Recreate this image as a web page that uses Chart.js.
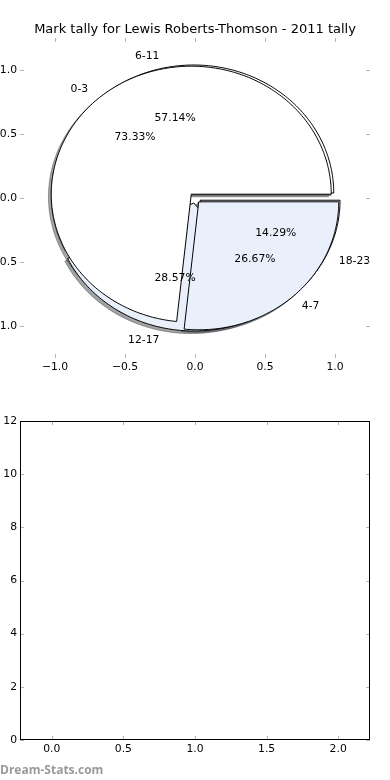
<!DOCTYPE html>
<html>
<head>
<meta charset="utf-8">
<script src="https://cdn.jsdelivr.net/npm/chart.js@4.4.0/dist/chart.umd.min.js"></script>
<style>
  html, body { margin: 0; padding: 0; background: #fff; }
  body { width: 390px; height: 780px; position: relative; overflow: hidden; }
  canvas { position: absolute; left: 0; }
  #pieChart { top: 0; }
  #barChart { top: 390px; }
  #mark { position: absolute; left: 0; top: 761px; font: bold 12px "Open Sans", sans-serif; color: #9a9a9a; }
</style>
</head>
<body>
<canvas id="pieChart" width="390" height="390"></canvas>
<canvas id="barChart" width="390" height="390"></canvas>
<div id="mark">Dream-Stats.com</div>
<script>
// first pie: 6-11 / 12-17 / 18-23
const rangesA = ["6-11", "12-17", "18-23"];
const tallyA = [4, 2, 1];
// second pie, drawn on top: 0-3 / 4-7
const rangesB = ["0-3", "4-7"];
const tallyB = [11, 4];

// tick labels
const pieTicks = [-1, -0.5, 0, 0.5, 1];
const lowerTicksX = [0, 0.5, 1, 1.5, 2];
const lowerTicksY = [0, 2, 4, 6, 8, 10, 12];
const lowerSeries = []; // nothing plotted in the lower panel

const TITLE = "Mark tally for Lewis Roberts-Thomson - 2011 tally";
const coloursA = ["#ffffff", "#eaf0fb", "#ffffff"];
const coloursB = ["#ffffff", "#eaf0fb"];
const EXPLODE = 0.04;
const SHADOW = 0.02;
const FONT = "DejaVu Sans";

function fmt(v) {
    return v.toFixed(1).replace("-", "\u2212");
}

function slices(values) {
    const total = values.reduce((a, b) => a + b, 0);
    let start = 0;
    return values.map((v) => {
        const frac = v / total;
        const end = start + frac;
        const mid = Math.PI * (start + end);
        const s = {
            t1: start * 2 * Math.PI,
            t2: end * 2 * Math.PI,
            mid: mid,
            cx: EXPLODE * Math.cos(mid),
            cy: EXPLODE * Math.sin(mid),
            pct: frac * 100,
        };
        start = end;
        return s;
    });
}

function shade(hex) {
    const n = parseInt(hex.slice(1), 16);
    const r = Math.round(((n >> 16) & 255) * 0.3);
    const g = Math.round(((n >> 8) & 255) * 0.3);
    const b = Math.round((n & 255) * 0.3);
    return `rgba(${r},${g},${b},0.5)`;
}

function wedgePath(ctx, xs, ys, s, dx, dy) {
    const cx = s.cx + dx, cy = s.cy + dy;
    ctx.beginPath();
    ctx.moveTo(xs.getPixelForValue(cx), ys.getPixelForValue(cy));
    const n = Math.max(2, Math.ceil((s.t2 - s.t1) / (Math.PI / 180)));
    for (let i = 0; i <= n; i++) {
        const t = s.t1 + ((s.t2 - s.t1) * i) / n;
        ctx.lineTo(xs.getPixelForValue(cx + Math.cos(t)), ys.getPixelForValue(cy + Math.sin(t)));
    }
    ctx.closePath();
}

const piePlugin = {
    id: "pieWedges",
    afterDatasetsDraw(chart) {
        const ctx = chart.ctx;
        const xs = chart.scales.x, ys = chart.scales.y;
        const pies = [
            { s: slices(tallyA), labels: rangesA, colours: coloursA },
            { s: slices(tallyB), labels: rangesB, colours: coloursB },
        ];
        ctx.save();
        // shadows sit under every wedge
        pies.forEach((p) => {
            p.s.forEach((s, i) => {
                wedgePath(ctx, xs, ys, s, -SHADOW, -SHADOW);
                ctx.fillStyle = shade(p.colours[i]);
                ctx.strokeStyle = shade(p.colours[i]);
                ctx.lineWidth = 1;
                ctx.fill();
                ctx.stroke();
            });
        });
        pies.forEach((p) => {
            p.s.forEach((s, i) => {
                wedgePath(ctx, xs, ys, s, 0, 0);
                ctx.fillStyle = p.colours[i];
                ctx.strokeStyle = "#000";
                ctx.lineWidth = 1;
                ctx.fill();
                ctx.stroke();
            });
        });
        ctx.fillStyle = "#000";
        ctx.font = `10.8px "${FONT}"`;
        ctx.textBaseline = "middle";
        pies.forEach((p) => {
            p.s.forEach((s, i) => {
                const lx = s.cx + 1.1 * Math.cos(s.mid);
                const ly = s.cy + 1.1 * Math.sin(s.mid);
                ctx.textAlign = lx < 0 ? "right" : "left";
                ctx.fillText(p.labels[i], xs.getPixelForValue(lx), ys.getPixelForValue(ly));
                const tx = s.cx + 0.6 * Math.cos(s.mid);
                const ty = s.cy + 0.6 * Math.sin(s.mid);
                ctx.textAlign = "center";
                ctx.fillText(s.pct.toFixed(2) + "%", xs.getPixelForValue(tx), ys.getPixelForValue(ty));
            });
        });
        // title centred on the whole figure
        ctx.font = `13px "${FONT}"`;
        ctx.textAlign = "center";
        ctx.fillText(TITLE, chart.width / 2, 30);
        ctx.restore();
    },
};

// small grey tick marks pointing into the plot on all four sides
const innerTicks = {
    id: "innerTicks",
    afterDraw(chart, args, opts) {
        const ctx = chart.ctx;
        const a = chart.chartArea;
        const xs = chart.scales.x, ys = chart.scales.y;
        ctx.save();
        ctx.strokeStyle = "#b4b4b4";
        ctx.lineWidth = 1;
        ctx.beginPath();
        xs.ticks.forEach((t) => {
            const x = Math.round(xs.getPixelForValue(t.value)) + 0.5;
            ctx.moveTo(x, a.top);
            ctx.lineTo(x, a.top + 4);
            ctx.moveTo(x, a.bottom);
            ctx.lineTo(x, a.bottom - 4);
        });
        ys.ticks.forEach((t) => {
            const y = Math.round(ys.getPixelForValue(t.value)) + 0.5;
            ctx.moveTo(a.left, y);
            ctx.lineTo(a.left + 4, y);
            ctx.moveTo(a.right, y);
            ctx.lineTo(a.right - 4, y);
        });
        ctx.stroke();
        if (opts.frame) {
            ctx.strokeStyle = "#000";
            ctx.strokeRect(Math.round(a.left) + 0.5, Math.round(a.top) + 0.5,
                Math.round(a.right - a.left) - 1, Math.round(a.bottom - a.top) - 1);
        }
        ctx.restore();
    },
};

function axis(min, max, values, label, fit) {
    return {
        type: "linear",
        min: min,
        max: max,
        grid: { display: false, drawTicks: false },
        border: { display: false },
        ticks: {
            color: "#000",
            font: { family: FONT, size: 10.8 },
            padding: 3,
            maxRotation: 0,
            autoSkip: false,
            callback: label,
        },
        afterBuildTicks: (s) => {
            s.ticks = values.map((v) => ({ value: v }));
        },
        afterFit: fit,
    };
}

new Chart(document.getElementById("pieChart"), {
    type: "scatter",
    data: { datasets: [] },
    options: {
        responsive: false,
        devicePixelRatio: 1,
        animation: false,
        layout: { padding: { top: 38, right: 20, left: 0, bottom: 0 } },
        plugins: {
            legend: { display: false },
            tooltip: { enabled: false },
            innerTicks: { frame: false },
        },
        scales: {
            x: axis(-1.25, 1.25, pieTicks, fmt, (s) => { s.height = 32; }),
            y: axis(-1.25, 1.25, pieTicks, fmt, (s) => { s.width = 20; }),
        },
    },
    plugins: [piePlugin, innerTicks],
});

new Chart(document.getElementById("barChart"), {
    type: "scatter",
    data: { datasets: [{ data: lowerSeries }] },
    options: {
        responsive: false,
        devicePixelRatio: 1,
        animation: false,
        layout: { padding: { top: 31, right: 20, left: 0, bottom: 0 } },
        plugins: {
            legend: { display: false },
            tooltip: { enabled: false },
            innerTicks: { frame: true },
        },
        scales: {
            x: axis(-0.222, 2.222, lowerTicksX, (v) => v.toFixed(1), (s) => { s.height = 40; }),
            y: axis(0, 12, lowerTicksY, (v) => String(v), (s) => { s.width = 20; }),
        },
    },
    plugins: [innerTicks],
});
</script>
</body>
</html>
